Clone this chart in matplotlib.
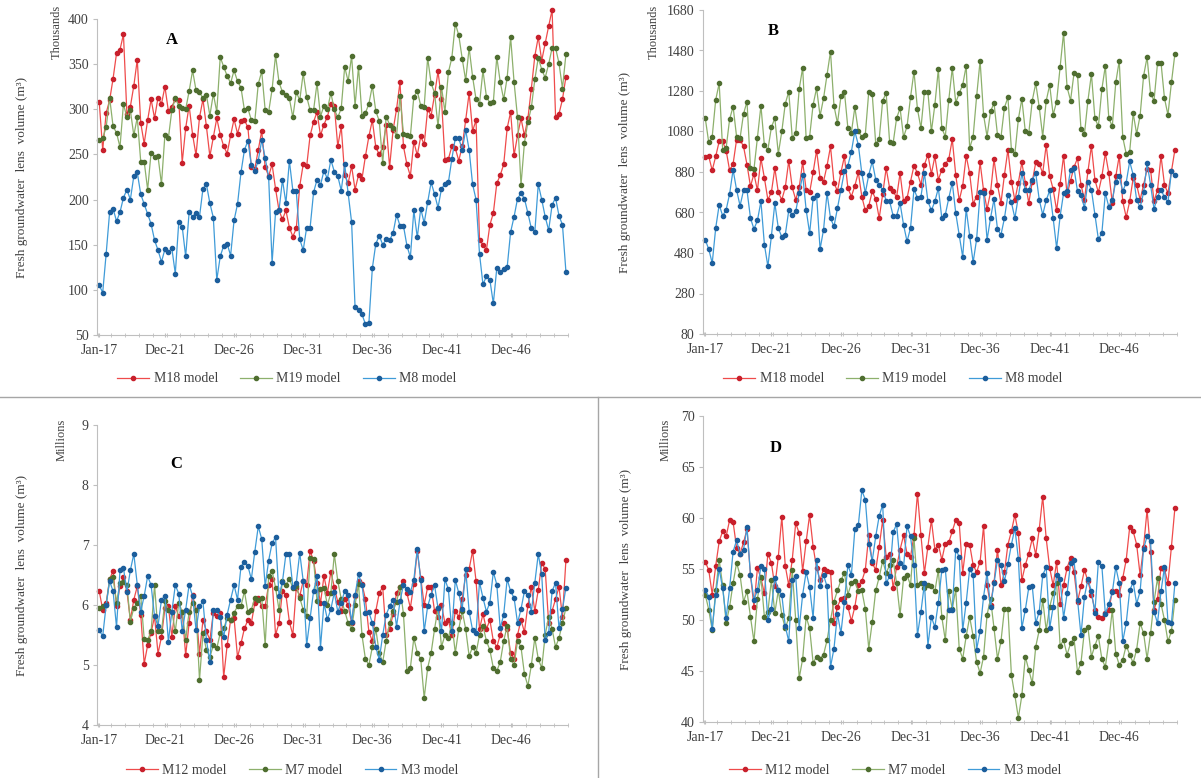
import numpy as np
import matplotlib
matplotlib.use("Agg")
import matplotlib.pyplot as plt

plt.rcParams['font.family'] = ['Liberation Serif', 'DejaVu Serif']

# ---------------- data (quarterly, Jan-17 .. Dec-50) ----------------
tick_pos = [0, 19, 39, 59, 79, 99, 119]
tick_lab = ['Jan-17', 'Dec-21', 'Dec-26', 'Dec-31', 'Dec-36', 'Dec-41', 'Dec-46']

# panel A, thousands m3
a_m18 = [308, 255, 296, 310, 334, 362, 366, 383, 295, 303,
         326, 355, 285, 262, 288, 311, 290, 313, 306, 325,
         298, 303, 311, 310, 241, 279, 304, 272, 249, 291,
         311, 281, 248, 269, 290, 272, 259, 251, 271, 289,
         273, 287, 288, 280, 236, 234, 255, 276, 236, 226,
         239, 212, 188, 178, 188, 169, 159, 168, 215, 239,
         237, 271, 286, 297, 271, 283,
         292, 306, 304, 259, 281, 227, 218, 237, 211, 227,
         223, 248, 270, 288, 258, 250, 258, 283, 236, 277,
         300, 330, 259, 239, 226, 264, 249, 270, 261, 300,
         293, 316, 342, 311, 244, 245, 259, 257, 243, 259,
         288, 318, 276, 288, 155, 150, 144, 172, 185, 218,
         227, 239, 279, 297, 249, 271, 290, 271, 290, 323,
         359, 380, 354, 373, 392, 410, 292, 295, 311, 336]
a_m19 = [266, 268, 280, 313, 281, 274, 258, 306, 291, 299,
         271, 291, 242, 242, 211, 252, 247, 248, 217, 272,
         268, 299, 312, 304, 301, 300, 320, 343, 321, 319,
         312, 316, 293, 317, 297, 358, 347, 337, 329, 343,
         331, 324, 299, 301, 288, 287, 328, 342, 299, 297,
         322, 360, 330, 319, 316, 312, 291, 319, 310, 340,
         314, 299, 299, 329, 292, 304,
         300, 318, 300, 291, 301, 347, 331, 359, 304, 347,
         293, 296, 306, 326, 298, 287, 240, 292, 283, 279,
         270, 315, 273, 272, 270, 314, 320, 304, 303, 357,
         329, 318, 281, 325, 297, 341, 357, 395, 382, 356,
         332, 368, 336, 311, 306, 343, 314, 307, 308, 358,
         330, 311, 335, 380, 330, 291, 216, 263, 286, 302,
         333, 357, 344, 335, 350, 368, 368, 351, 323, 361]
a_m8 = [105, 97, 140, 186, 190, 176, 186, 202, 211, 200,
        226, 230, 206, 195, 184, 173, 155, 144, 131, 145,
        142, 146, 118, 175, 170, 137, 186, 181, 185, 181,
        212, 217, 196, 180, 111, 137, 149, 151, 138, 177,
        195, 230, 255, 265, 238, 232, 243, 266,
        246, 225, 130, 186, 188, 222, 196, 243, 210, 209,
        156, 144, 169, 169, 208, 222, 216, 232,
        223, 244, 231, 226, 210, 239, 207, 175, 81, 78,
        73, 62, 63, 124, 151, 160, 150, 156, 155, 163,
        183, 171, 171, 149, 136, 188, 158, 190, 174, 197,
        219, 206, 191, 212, 217, 219, 245, 268, 268, 255,
        277, 255, 217, 200, 140, 106, 115, 111, 85, 124,
        120, 123, 125, 164, 181, 201, 207, 201, 185, 168,
        164, 217, 200, 181, 166, 194, 202, 182, 172, 120]

# panel B, thousands m3
b_m18 = [953, 957, 888, 957, 1031, 1031, 986, 888, 920, 1039,
         1039, 1006, 916, 809, 871, 789, 948, 850, 743, 779,
         899, 779, 743, 804, 935, 804, 743, 804, 929, 792,
         779, 878, 986, 850, 833, 911, 1006, 828, 784, 878,
         957, 800, 759, 812, 878, 759, 690, 713, 784, 746,
         652, 771, 899, 800, 784, 756, 874, 735, 751, 833,
         911, 874, 817, 916, 965,
         871, 957, 842, 891, 920, 943, 1042, 866, 740, 812,
         960, 874, 723, 759, 927, 789, 697, 779, 943, 817,
         727, 866, 990, 833, 740, 828, 927, 828, 727, 833,
         927, 920, 874, 1014, 861, 795, 690, 822, 960, 767,
         838, 904, 948, 817, 743, 883, 1009, 842, 779, 858,
         973, 874, 727, 858, 960, 735, 657, 735, 850, 817,
         743, 817, 894, 891, 735, 792, 960, 817, 776, 883,
         990]
b_m19 = [1146, 1026, 1055, 1236, 1318, 990, 998, 1141, 1203, 1055,
         1047, 1167, 1228, 899, 894, 1050, 1207, 1011, 990, 1100,
         1146, 970, 1080, 1217, 1277, 1050, 1072, 1289, 1396, 1047,
         1055, 1212, 1294, 1157, 1244, 1360, 1475, 1207, 1121, 1253,
         1277, 1096, 1075, 1200, 1080, 1055, 1064, 1277, 1264, 1019,
         1042, 1233, 1269, 1027, 1022, 1146, 1195, 1052, 1105, 1249,
         1376, 1190, 1096, 1277, 1274,
         1080, 1212, 1388, 1096, 1055, 1236, 1393, 1223, 1269, 1310,
         1404, 998, 1055, 1253, 1429, 1162, 1055, 1179, 1220, 1064,
         1052, 1198, 1249, 990, 970, 1141, 1241, 1080, 1072, 1233,
         1318, 1200, 1055, 1231, 1310, 1162, 1228, 1397, 1568, 1299,
         1233, 1368, 1360, 1091, 1068, 1233, 1364, 1146, 1105, 1289,
         1404, 1146, 1105, 1322, 1429, 1052, 970, 981, 1170, 1068,
         1159, 1355, 1447, 1266, 1233, 1417, 1420, 1244, 1162, 1322,
         1464]
b_m8 = [545, 499, 430, 603, 718, 664, 693, 772, 891, 792,
        713, 789, 789, 652, 598, 641, 735, 521, 414, 562,
        726, 603, 559, 570, 690, 669, 685, 776, 866, 693,
        578, 751, 767, 499, 595, 776, 652, 611, 702, 792,
        883, 912, 981, 1080, 1014, 874, 776, 866, 932, 842,
        817, 792, 738, 735, 664, 664, 726, 619, 537, 603,
        795, 751, 759, 874,
        735, 690, 735, 800, 652, 669, 751, 828, 677, 570,
        460, 697, 565, 434, 548, 779, 776, 545, 652, 746,
        598, 570, 652, 767, 730, 652, 759, 874, 789, 789,
        842, 874, 743, 669, 740, 789, 652, 504, 661, 776,
        784, 891, 899, 784, 767, 702, 833, 792, 669, 548,
        578, 776, 708, 743, 833, 861, 784, 828, 932, 866,
        743, 705, 779, 924, 817, 697, 759, 792, 756, 730,
        883, 866]

# panel C, millions m3
c_m12 = [6.23, 5.92, 6.03, 6.43, 6.57, 5.98, 6.31, 6.46, 6.23, 5.75,
         6.09, 6.31, 5.84, 5.02, 5.33, 5.54, 5.81, 5.19, 5.47, 5.95,
         5.98, 5.47, 5.98, 5.81, 5.89, 5.16, 5.70, 6.17, 5.92, 5.19,
         5.75, 5.56, 5.42, 5.87, 5.81, 5.87, 4.80, 5.33, 5.75, 5.78,
         5.13, 5.36, 5.61, 5.75, 5.70, 6.03, 6.12, 5.98, 5.98, 6.34,
         6.43, 5.50, 5.70, 6.23, 6.17, 5.72, 5.50, 6.29, 6.15, 6.40,
         6.34, 6.90, 6.74, 6.37, 6.03, 6.48,
         6.20, 6.55, 6.30, 6.05, 5.90, 6.10, 6.00, 5.70, 6.15, 6.40,
         6.35, 6.10, 5.55, 5.40, 5.90, 6.20, 6.30, 5.50, 5.60, 5.85,
         6.20, 6.30, 6.40, 6.20, 5.95, 6.35, 6.90, 6.45, 6.00, 6.30,
         6.30, 5.90, 5.80, 6.00, 5.70, 5.75, 5.50, 5.90, 5.80, 6.10,
         6.50, 6.60, 6.90, 6.40, 5.60, 5.85, 5.60, 5.75, 5.40, 5.30,
         5.50, 5.70, 5.60, 5.20, 5.10, 5.50, 5.75, 5.55, 6.00, 6.30,
         5.90, 6.25, 6.70, 6.60, 5.70, 5.90, 6.10, 6.30, 5.80, 6.75]
c_m7 = [5.95, 5.98, 6.00, 6.43, 6.46, 6.04, 6.37, 6.38, 6.34, 5.72,
        5.95, 6.03, 6.15, 5.44, 5.42, 5.56, 6.33, 5.56, 5.56, 6.06,
        5.92, 5.89, 5.56, 6.04, 5.89, 5.42, 5.89, 6.03, 5.92, 4.75,
        5.53, 5.25, 5.13, 5.33, 5.28, 5.53, 5.61, 5.78, 5.75, 5.87,
        5.98, 5.98, 6.23, 5.88, 5.92, 6.12, 6.09, 6.12, 5.33, 6.48,
        6.57, 6.29, 5.92, 6.40, 6.34, 6.43, 6.29, 6.31, 6.12, 5.92,
        5.81, 6.79, 6.76, 6.06, 6.26, 6.29,
        6.00, 6.20, 6.85, 6.40, 6.10, 5.90, 5.70, 5.60, 6.00, 6.35,
        5.50, 5.10, 5.00, 5.30, 5.60, 5.20, 5.05, 5.40, 5.70, 5.90,
        6.05, 6.30, 5.85, 4.90, 4.95, 5.45, 5.20, 5.10, 4.45, 4.95,
        5.20, 5.60, 5.95, 5.30, 5.50, 5.45, 5.70, 5.20, 5.60, 5.90,
        5.60, 5.15, 5.30, 5.20, 5.50, 5.65, 5.40, 5.25, 4.95, 4.90,
        5.05, 5.40, 5.65, 5.10, 5.00, 5.40, 5.30, 4.85, 4.65, 5.00,
        5.45, 5.10, 4.95, 5.50, 5.80, 5.60, 5.30, 5.45, 5.70, 5.95]
c_m3 = [5.58, 5.48, 6.00, 6.40, 6.23, 5.63, 6.58, 6.62, 6.21, 6.58,
        6.85, 6.34, 5.89, 6.15, 6.48, 6.33, 5.81, 5.65, 6.09, 6.15,
        5.39, 5.89, 6.33, 6.19, 5.56, 5.92, 6.34, 6.15, 5.58, 5.98,
        6.06, 5.42, 5.05, 5.92, 5.92, 5.80, 5.46, 5.84, 6.09, 6.33,
        6.09, 6.64, 6.72, 6.65, 6.43, 6.89, 7.31, 7.10, 6.31, 6.74,
        7.03, 7.13, 6.15, 6.39, 6.85, 6.85, 6.30, 6.37, 6.87, 6.40,
        5.33, 5.78, 6.23, 6.48, 5.29, 6.03,
        5.76, 5.93, 6.21, 5.89, 6.04, 6.23, 6.17, 5.72, 6.17, 6.51,
        6.34, 5.87, 5.88, 5.70, 5.30, 5.09, 5.50, 5.84, 5.98, 6.09,
        5.64, 6.06, 6.34, 6.26, 6.21, 6.42, 6.93, 6.42, 5.56, 5.98,
        6.17, 6.33, 5.95, 5.56, 6.43, 6.26, 5.56, 6.42, 6.20, 5.93,
        6.60, 5.89, 5.58, 5.54, 6.38, 6.12, 5.89, 6.04, 6.55, 6.34,
        5.61, 5.84, 6.43, 6.23, 6.12, 5.70, 5.93, 6.23, 6.17, 5.89,
        6.37, 6.85, 6.51, 5.42, 5.53, 6.23, 6.37, 5.61, 5.93, 6.29]

# panel D, millions m3
d_m12 = [55.7, 54.9, 52.5, 55.3, 57.7, 58.7, 58.2, 59.8, 59.6, 57.1,
         56.5, 57.6, 58.9, 54.4, 51.3, 55.1, 54.1, 52.6, 56.5, 55.6,
         53.3, 56.2, 60.1, 55.3, 53.4, 55.9, 59.5, 58.5, 54.8, 57.7,
         60.3, 57.2, 55.1, 53.9, 55.0, 54.8, 54.7, 49.7, 51.3, 52.1,
         52.2, 51.3, 49.9, 51.3, 53.4, 53.8, 54.9, 58.3, 55.6, 54.9,
         57.2, 59.8, 56.2, 56.5, 53.1, 55.2, 56.9, 58.3, 56.5, 56.2,
         58.3, 62.4, 58.3, 54.6, 57.2, 59.8,
         56.9, 57.4, 55.9, 57.5, 57.6, 58.7, 59.8, 59.5, 54.6, 57.5,
         57.4, 55.4, 54.7, 55.7, 59.2, 53.4, 51.5, 53.7, 56.9, 53.4,
         54.7, 57.4, 58.7, 60.3, 58.5, 53.9, 55.4, 56.5, 58.0, 56.4,
         58.9, 62.1, 58.0, 55.1, 53.4, 55.7, 51.6, 53.4, 55.1, 56.1,
         54.7, 51.8, 53.3, 54.9, 53.8, 52.5, 51.0, 50.3, 50.2, 50.7,
         51.0, 52.8, 52.8, 52.5, 54.1, 55.9, 59.1, 58.7, 57.4, 54.4,
         57.2, 60.8, 56.7, 51.0, 52.1, 55.1, 55.0, 53.6, 57.2, 61.0]
d_m7 = [52.5, 51.0, 49.0, 52.9, 55.9, 53.4, 49.7, 51.3, 53.6, 55.6,
        54.4, 51.8, 52.8, 50.3, 47.9, 52.1, 54.2, 50.3, 50.8, 53.9,
        50.7, 52.9, 50.5, 49.2, 50.2, 54.9, 50.0, 44.3, 46.2, 50.3,
        49.2, 45.8, 46.4, 46.2, 46.6, 48.0, 50.0, 51.8, 52.9, 53.9,
        54.6, 52.5, 53.6, 53.8, 52.8, 52.9, 51.1, 47.2, 49.8, 52.9,
        54.2, 55.8, 54.6, 55.4, 55.9, 53.6, 50.5, 54.1, 54.4, 53.4,
        58.0, 53.4, 53.6, 53.1, 53.4, 53.3,
        52.8, 54.9, 50.3, 48.0, 52.8, 51.1, 53.0, 47.2, 46.2, 48.4,
        50.3, 48.4, 45.9, 44.8, 46.4, 50.5, 52.1, 49.2, 46.2, 47.9,
        51.1, 51.1, 44.6, 42.6, 40.4, 42.6, 46.4, 45.1, 43.8, 47.4,
        49.0, 52.0, 49.0, 51.3, 52.6, 53.6, 47.5, 48.0, 46.6, 47.7,
        48.2, 44.9, 45.8, 49.0, 49.3, 46.4, 47.5, 48.4, 46.2, 45.4,
        47.9, 51.0, 46.7, 45.6, 46.1, 47.5, 46.6, 45.8, 47.1, 49.7,
        48.7, 46.2, 48.7, 51.8, 54.1, 51.6, 50.0, 47.9, 48.9, 52.0]
d_m3 = [52.9, 52.3, 49.1, 52.5, 55.0, 53.1, 50.2, 53.1, 56.7, 57.8,
        56.5, 56.9, 59.1, 54.4, 52.0, 52.9, 55.3, 55.0, 50.0, 51.1,
        54.1, 52.9, 52.5, 49.4, 47.9, 53.9, 54.3, 49.2, 52.5, 54.7,
        53.2, 50.2, 55.9, 53.3, 54.4, 53.3, 45.4, 47.2, 50.6, 48.7,
        51.8, 55.4, 54.4, 58.9, 59.3, 62.7, 61.8, 57.5, 55.8, 58.2,
        60.2, 61.3, 53.6, 54.3, 58.6, 59.4, 55.6, 55.2, 59.2, 58.2,
        55.4, 48.5, 50.8, 53.6, 47.5, 50.3,
        49.3, 51.7, 54.9, 55.0, 51.0, 51.0, 56.9, 56.2, 49.0, 51.7,
        55.0, 54.4, 47.1, 48.9, 52.3, 54.6, 51.3, 53.6, 55.9, 55.4,
        53.8, 55.5, 57.4, 59.0, 56.0, 49.2, 51.0, 53.2, 53.3, 49.7,
        50.8, 54.4, 55.2, 49.2, 51.3, 54.4, 54.0, 50.2, 52.6, 55.6,
        55.9, 52.0, 48.5, 52.3, 54.0, 52.8, 50.7, 55.7, 55.3, 50.6,
        51.6, 52.7, 55.2, 53.6, 47.9, 49.7, 52.9, 53.7, 51.6, 52.8,
        57.0, 58.2, 57.7, 50.8, 49.7, 52.8, 55.2, 49.8, 49.7, 53.6]

# ---------------- styling ----------------
RED = ('#ef4b4b', '#c8202c')
GREEN = ('#8db06c', '#4f6e30')
BLUE = ('#3f9bd8', '#1c5e9c')
AXC = '#bfbfbf'
TXT = '#404040'

fig = plt.figure(figsize=(12.01, 7.78), dpi=100)
W, H = 1201.0, 778.0


def make_panel(rect, series, ylim, yticks, unit, letter, letter_xy, leg_xy, ylabel_x, unit_xy):
    l, t, r, b = rect
    ax = fig.add_axes([l / W, 1 - b / H, (r - l) / W, (b - t) / H])
    for vals, (lc, mc), name in series:
        x = np.arange(len(vals))
        ax.plot(x, vals, color=lc, lw=0.9, marker='o', ms=3.0,
                mfc=mc, mec=mc, label=name, clip_on=False)
    ax.set_xlim(-0.65, 135.6)
    ax.set_ylim(*ylim)
    ax.set_yticks(yticks)
    ax.set_xticks(tick_pos)
    ax.set_xticklabels(tick_lab)
    ax.set_xticks(np.arange(-0.5, 136, 4), minor=True)
    for s in ['top', 'right']:
        ax.spines[s].set_visible(False)
    for s in ['left', 'bottom']:
        ax.spines[s].set_color(AXC)
        ax.spines[s].set_linewidth(0.8)
    ax.tick_params(axis='both', which='major', labelsize=10, colors=TXT, length=0, pad=3)
    ax.tick_params(axis='x', which='minor', length=3, color=AXC, direction='inout')
    ax.tick_params(axis='y', which='major', length=3, color=AXC, direction='out')
    ax.tick_params(axis='x', which='major', length=3, color=AXC, direction='inout', pad=5)
    fig.text(letter_xy[0] / W, 1 - letter_xy[1] / H, letter, fontsize=12,
             fontweight='bold', ha='center', va='center', color='black')
    fig.text(unit_xy[0] / W, 1 - unit_xy[1] / H, unit, fontsize=9, rotation=90,
             ha='center', va='center', color=TXT)
    fig.text(ylabel_x / W, 1 - ((t + b) / 2) / H,
             'Fresh groundwater  lens  volume (m³)', fontsize=9.5,
             rotation=90, ha='center', va='center', color=TXT)
    ax.legend(loc='center', bbox_to_anchor=(leg_xy[0] / W, 1 - leg_xy[1] / H),
              bbox_transform=fig.transFigure, ncol=3, frameon=False,
              fontsize=10, handlelength=2.3, columnspacing=1.6, handletextpad=0.3,
              labelcolor=TXT)
    return ax


make_panel((97, 19, 568, 335),
           [(a_m18, RED, 'M18 model'), (a_m19, GREEN, 'M19 model'), (a_m8, BLUE, 'M8 model')],
           (50, 400), np.arange(50, 401, 50), 'Thousands', 'A', (172, 40), (287, 379), 22, (57, 32))

make_panel((703, 10, 1177, 334),
           [(b_m18, RED, 'M18 model'), (b_m19, GREEN, 'M19 model'), (b_m8, BLUE, 'M8 model')],
           (80, 1680), np.arange(80, 1681, 200), 'Thousands', 'B', (773, 31), (893, 379), 625, (654, 32))

make_panel((97, 425, 568, 725),
           [(c_m12, RED, 'M12 model'), (c_m7, GREEN, 'M7 model'), (c_m3, BLUE, 'M3 model')],
           (4, 9), np.arange(4, 10, 1), 'Millions', 'C', (176, 464), (292, 770), 22, (62, 440))

make_panel((703, 416, 1177, 722),
           [(d_m12, RED, 'M12 model'), (d_m7, GREEN, 'M7 model'), (d_m3, BLUE, 'M3 model')],
           (40, 70), np.arange(40, 71, 5), 'Millions', 'D', (776, 448), (895, 770), 626, (666, 440))

# frame lines separating the lower panels
fig.add_artist(plt.Line2D([0, 1], [1 - 397 / H, 1 - 397 / H], color='#a6a6a6', lw=1.0))
fig.add_artist(plt.Line2D([598 / W, 598 / W], [0, 1 - 397 / H], color='#a6a6a6', lw=1.0))

fig.savefig('out.png', dpi=100)
